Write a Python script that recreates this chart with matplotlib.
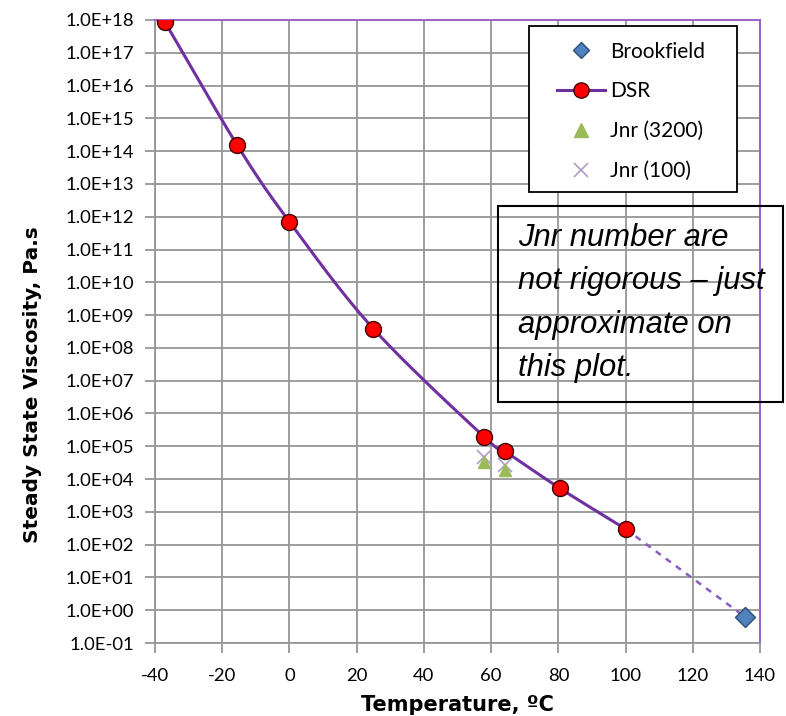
import numpy as np
import matplotlib.pyplot as plt
from matplotlib.patches import Rectangle
from matplotlib.ticker import FixedLocator, FuncFormatter

plt.rcParams['axes.unicode_minus'] = False

# data
dsr_temp = [-37, -15.5, 0, 25, 58, 64, 80.5, 100]
dsr_visc = [8.5e17, 1.5e14, 7.0e11, 3.8e8, 1.9e5, 7.2e4, 5.2e3, 3.0e2]
brook_temp = [135.5]
brook_visc = [0.63]
jnr3200_temp = [58, 64]
jnr3200_visc = [3.3e4, 1.9e4]
jnr100_temp = [58, 64]
jnr100_visc = [4.8e4, 2.6e4]

purple = '#7030a0'
W, H = 786, 716


def smooth(xs, ys, n=30):
    # Catmull-Rom through the points in log space, like Excel's smoothed line
    x = np.asarray(xs, float)
    y = np.log10(ys)
    px = np.concatenate([[2 * x[0] - x[1]], x, [2 * x[-1] - x[-2]]])
    py = np.concatenate([[2 * y[0] - y[1]], y, [2 * y[-1] - y[-2]]])
    ox, oy = [], []
    t = np.linspace(0, 1, n)
    for i in range(1, len(px) - 2):
        for arr, out in ((px, ox), (py, oy)):
            p0, p1, p2, p3 = arr[i - 1:i + 3]
            out.extend(0.5 * (2 * p1 + (-p0 + p2) * t
                              + (2 * p0 - 5 * p1 + 4 * p2 - p3) * t ** 2
                              + (-p0 + 3 * p1 - 3 * p2 + p3) * t ** 3))
    return np.array(ox), 10 ** np.array(oy)


fig = plt.figure(figsize=(W / 100, H / 100), dpi=100)
ax = fig.add_axes([155 / W, 1 - 643 / H, (760 - 155) / W, (643 - 20) / H])

ax.plot([dsr_temp[-1], brook_temp[0]], [dsr_visc[-1], brook_visc[0]],
        color='#8a5cc0', lw=1.8, ls=(0, (2.5, 2.5)), zorder=2)
sx, sy = smooth(dsr_temp, dsr_visc)
ax.plot(sx, sy, color=purple, lw=2.2, zorder=3)
ax.plot(dsr_temp, dsr_visc, ls='none', marker='o', ms=11.5, mfc='red',
        mec='#400000', mew=1.0, zorder=4)
ax.plot(jnr100_temp, jnr100_visc, ls='none', marker='x', ms=10,
        color='#b3a2c7', mew=1.3, zorder=3)
ax.plot(jnr3200_temp, jnr3200_visc, ls='none', marker='^', ms=9,
        color='#9bbb59', zorder=3)
ax.plot(brook_temp, brook_visc, ls='none', marker='D', ms=10, mfc='#4f81bd',
        mec='#2c4d75', mew=1.0, zorder=4)

ax.set_yscale('log')
ax.set_ylim(0.1, 1e18)
ax.set_xlim(-40, 140)
ax.set_xticks(range(-40, 141, 20))
ax.yaxis.set_major_locator(FixedLocator([10.0 ** k for k in range(-1, 19)]))
ax.yaxis.set_minor_locator(FixedLocator([]))
ax.yaxis.set_major_formatter(FuncFormatter(lambda v, p: f'{v:.1E}'))
ax.grid(True, color='#969696', lw=1.3)
ax.set_axisbelow(True)
for s in ('left', 'bottom'):
    ax.spines[s].set_color('#969696')
    ax.spines[s].set_linewidth(1.3)
for s in ('top', 'right'):
    ax.spines[s].set_color('#9966cc')
    ax.spines[s].set_linewidth(1.5)
ax.tick_params(axis='both', length=7, width=1.3, color='#969696',
               labelsize=13.3, direction='out')
ax.tick_params(axis='y', pad=8)
ax.tick_params(axis='x', pad=11)
for lab in ax.get_xticklabels() + ax.get_yticklabels():
    lab.set_fontfamily('Lato')

ax.set_xlabel('Temperature, ºC', fontsize=15, fontweight='bold', labelpad=8)
ax.set_ylabel('Steady State Viscosity, Pa.s', fontsize=14.5, fontweight='bold')
ax.yaxis.set_label_coords((42 - 155) / 605, (643 - 385) / 623)

# legend: white frame drawn separately, entries placed inside it
fig.patches.append(Rectangle((529 / W, 1 - 192 / H), (737 - 529) / W, (192 - 26) / H,
                             transform=fig.transFigure, fc='white', ec='black',
                             lw=1.3, zorder=5))
h_b = plt.Line2D([], [], ls='none', marker='D', ms=8.5, mfc='#4f81bd', mec='#2c4d75')
h_d = plt.Line2D([], [], color=purple, lw=2.2, marker='o', ms=11, mfc='red', mec='#400000')
h_3 = plt.Line2D([], [], ls='none', marker='^', ms=10, color='#9bbb59')
h_1 = plt.Line2D([], [], ls='none', marker='x', ms=10, color='#b3a2c7', mew=1.3)
leg = fig.legend([h_b, h_d, h_3, h_1], ['Brookfield', 'DSR', 'Jnr (3200)', 'Jnr (100)'],
                 loc='upper left', bbox_to_anchor=(557 / W, 1 - 41.5 / H),
                 prop={'family': 'Lato', 'size': 15}, frameon=False,
                 labelspacing=0.95, borderpad=0, borderaxespad=0,
                 handlelength=2.3, handletextpad=0.25)
leg.set_zorder(6)

# note box (no fill, grid shows through)
fig.patches.append(Rectangle((498 / W, 1 - 402 / H), (783 - 498) / W, (402 - 206) / H,
                             transform=fig.transFigure, fc='none', ec='black',
                             lw=1.5, zorder=5))
fig.text(518 / W, 1 - 223 / H, 'Jnr number are\nnot rigorous – just\napproximate on\nthis plot.',
         family='Liberation Sans', fontsize=22.3,
         style='italic', ha='left', va='top', linespacing=1.58, zorder=6)

fig.savefig('out.png', dpi=100)
